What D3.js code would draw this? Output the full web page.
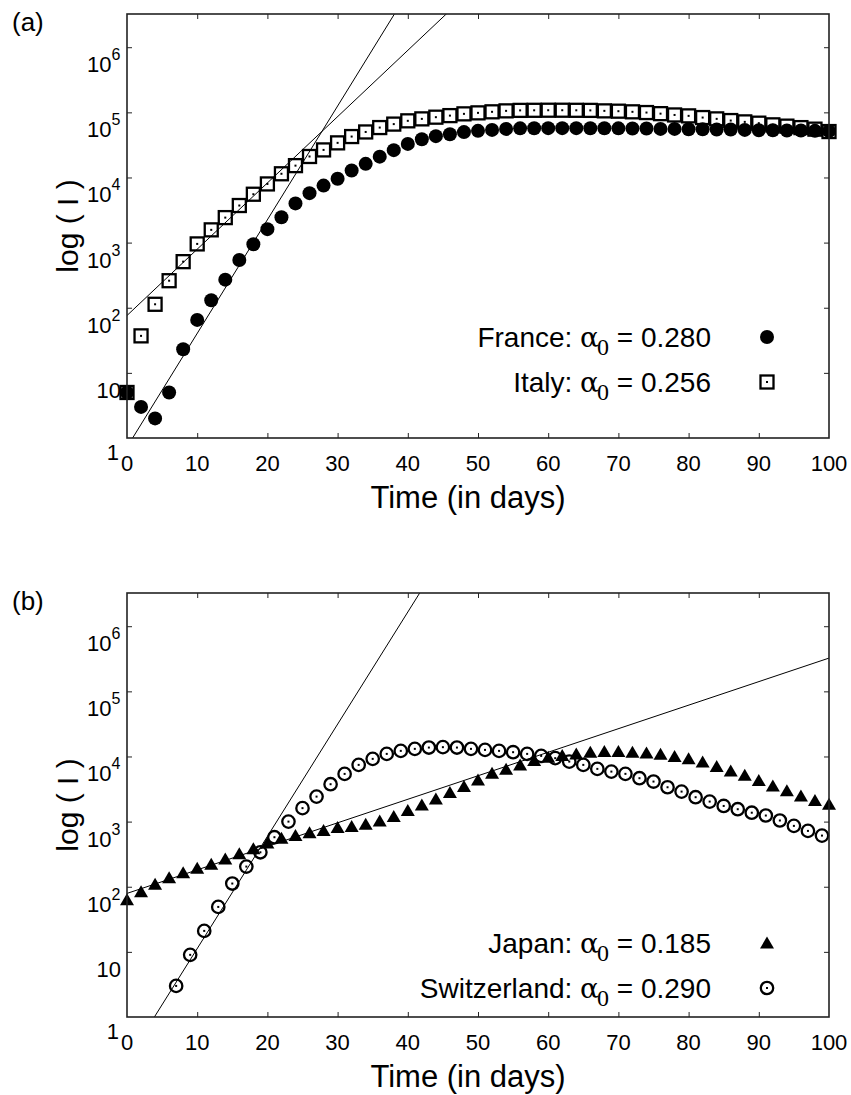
<!DOCTYPE html>
<html>
<head>
<meta charset="utf-8">
<script src="https://cdn.jsdelivr.net/npm/d3@7"></script>
<style>
  body { margin: 0; background: #fff; }
  svg { font-family: "Liberation Sans", Arial, Helvetica, sans-serif; }
</style>
</head>
<body>
<script>
// ---- data ----
var evenDays = d3.range(0, 101, 2);      // France, Italy, Japan sampled every 2 days
var switzDays = d3.range(7, 100, 2);     // Switzerland on odd days 7..99

var franceI = [5, 3, 2, 5, 23, 65, 130, 270, 540, 945, 1610, 2450, 4000, 5750, 7500, 9550,
  12800, 16200, 20900, 26300, 32800, 38700, 43100, 46200, 49700, 52000, 53800, 55700,
  56800, 57000, 57200, 57200, 57200, 57100, 57000, 56800, 56500, 56500, 55700, 55700,
  55100, 55100, 54500, 54500, 53800, 53200, 53200, 52500, 52500, 52000, 51400];

var italyI = [5, 37, 113, 260, 510, 955, 1570, 2420, 3710, 5530, 7960, 11400, 15200, 21000,
  26500, 34000, 42500, 50000, 58400, 66000, 74100, 79400, 84300, 89100, 94800, 98200,
  101900, 105400, 107200, 107500, 107800, 107800, 107500, 107200, 105400, 104200, 101900,
  99300, 95500, 91200, 88300, 83200, 79400, 74800, 71400, 68200, 64300, 61400, 58300,
  55200, 50700];

var japanI = [63, 84, 109, 137, 164, 192, 222, 266, 321, 383, 470, 556, 610, 677, 728, 809,
  838, 912, 1025, 1195, 1475, 1805, 2230, 2790, 3450, 4370, 5530, 6380, 7430, 8650, 9750,
  10330, 10960, 11640, 11890, 11890, 11640, 11300, 10800, 10000, 9200, 8200, 7000, 6010,
  5160, 4270, 3530, 2990, 2480, 2100, 1850];

var switzI = [3, 9, 21, 49, 112, 204, 338, 576, 1000, 1610, 2420, 3750, 5400, 7430, 9190,
  10960, 12190, 13090, 13710, 13900, 13710, 13090, 12620, 12190, 11640, 10960, 10210, 9420,
  8350, 7430, 6450, 5860, 5410, 4640, 4120, 3370, 2890, 2370, 2030, 1740, 1550, 1370, 1240,
  1040, 860, 720, 610];

// exponential fits: two points [day, I] on each straight line
var franceFit = [[0.8, 1], [38.1, 3.24e6]];
var italyFit = [[0, 76], [38.8, 6.76e5]];
var japanFit = [[0, 79], [100, 3.24e5]];
var switzFit = [[3.9, 1], [41.7, 3.24e6]];

var xTicks = [0, 10, 20, 30, 40, 50, 60, 70, 80, 90, 100];
var yTicks = [10, 100, 1e3, 1e4, 1e5, 1e6];
var yExp = ["", "2", "3", "4", "5", "6"];

var width = 851, height = 1095;

var svg = d3.select("body").append("svg")
    .attr("width", width)
    .attr("height", height);

// marker shapes
function filledCircle(g, pts) {
  g.selectAll(null).data(pts).enter().append("circle")
    .attr("cx", function(d){ return d[0]; })
    .attr("cy", function(d){ return d[1]; })
    .attr("r", 7)
    .attr("fill", "#000");
}
function dottedSquare(g, pts) {
  var s = g.selectAll(null).data(pts).enter().append("g")
    .attr("transform", function(d){ return "translate(" + d[0] + "," + d[1] + ")"; });
  s.append("rect").attr("x", -6.5).attr("y", -6.5).attr("width", 13).attr("height", 13)
    .attr("fill", "none").attr("stroke", "#000").attr("stroke-width", 2.3);
  s.append("rect").attr("x", -1).attr("y", -1).attr("width", 2).attr("height", 2).attr("fill", "#000");
}
function filledTriangle(g, pts) {
  g.selectAll(null).data(pts).enter().append("path")
    .attr("transform", function(d){ return "translate(" + d[0] + "," + d[1] + ")"; })
    .attr("d", "M0,-6.5L7,5.5L-7,5.5Z")
    .attr("fill", "#000");
}
function dottedCircle(g, pts) {
  var s = g.selectAll(null).data(pts).enter().append("g")
    .attr("transform", function(d){ return "translate(" + d[0] + "," + d[1] + ")"; });
  s.append("circle").attr("r", 6.2).attr("fill", "none").attr("stroke", "#000").attr("stroke-width", 2.3);
  s.append("rect").attr("x", -1).attr("y", -1).attr("width", 2).attr("height", 2).attr("fill", "#000");
}

function drawPanel(opt) {
  var L = 127, R = 829, T = opt.top, B = opt.bottom;
  var x = d3.scaleLinear().domain([0, 100]).range([L, R]);
  var y = d3.scaleLog().domain([1, Math.pow(10, 6.51)]).range([B, T]);

  var g = svg.append("g");

  // panel letter
  g.append("text").attr("x", 12).attr("y", T + 17).attr("font-size", 26).text(opt.letter);

  // clip for fit lines
  g.append("clipPath").attr("id", "clip" + opt.id)
    .append("rect").attr("x", L).attr("y", T).attr("width", R - L).attr("height", B - T);

  // fit lines, extended over the whole time range
  var line = d3.line().x(function(d){ return x(d[0]); }).y(function(d){ return y(d[1]); });
  opt.fits.forEach(function(f) {
    var k = (Math.log10(f[1][1]) - Math.log10(f[0][1])) / (f[1][0] - f[0][0]);
    var at = function(t){ return [t, Math.pow(10, Math.log10(f[0][1]) + k * (t - f[0][0]))]; };
    g.append("path")
      .attr("d", line([at(-5), at(105)]))
      .attr("clip-path", "url(#clip" + opt.id + ")")
      .attr("fill", "none").attr("stroke", "#000").attr("stroke-width", 1);
  });

  // series markers
  opt.series.forEach(function(s) {
    var pts = s.days.map(function(d, i){ return [x(d), y(s.values[i])]; });
    s.marker(g.append("g"), pts);
  });

  // ticks (inward) on all four sides
  g.append("g").attr("transform", "translate(0," + B + ")")
    .call(d3.axisBottom(x).tickValues(xTicks.slice(1, -1)).tickSize(-5).tickSizeOuter(0).tickFormat(""));
  g.append("g").attr("transform", "translate(0," + T + ")")
    .call(d3.axisTop(x).tickValues(xTicks.slice(1, -1)).tickSize(-5).tickSizeOuter(0).tickFormat(""));
  g.append("g").attr("transform", "translate(" + L + ",0)")
    .call(d3.axisLeft(y).tickValues(yTicks).tickSize(-5).tickSizeOuter(0).tickFormat(""));
  g.append("g").attr("transform", "translate(" + R + ",0)")
    .call(d3.axisRight(y).tickValues(yTicks).tickSize(-5).tickSizeOuter(0).tickFormat(""));
  g.selectAll(".domain").remove();
  g.selectAll(".tick line").attr("stroke", "#222").attr("stroke-width", 1);

  g.append("rect").attr("x", L).attr("y", T).attr("width", R - L).attr("height", B - T)
    .attr("fill", "none").attr("stroke", "#222").attr("stroke-width", 1.6);

  // x tick labels
  g.selectAll(null).data(xTicks).enter().append("text")
    .attr("x", function(d){ return x(d); })
    .attr("y", B + 33)
    .attr("text-anchor", "middle")
    .attr("font-size", 22)
    .text(function(d){ return d; });

  // y tick labels (sit a little below their ticks, as in the original)
  yTicks.forEach(function(v, i) {
    var t = g.append("text").attr("font-size", 22).attr("y", y(v) + 25);
    if (yExp[i] === "") {
      t.attr("x", 121).attr("text-anchor", "end").text("10");
    } else {
      t.attr("x", 87).text("10");
      t.append("tspan").attr("font-size", 16).attr("dy", -12).text(yExp[i]);
    }
  });
  g.append("text").attr("x", 119).attr("y", B + 22).attr("text-anchor", "end")
    .attr("font-size", 22).text("1");

  // axis titles
  g.append("text").attr("x", (L + R) / 2 - 10).attr("y", B + 70)
    .attr("text-anchor", "middle").attr("font-size", 31).text("Time (in days)");
  g.append("text")
    .attr("transform", "translate(78," + ((T + B) / 2) + ") rotate(-90)")
    .attr("text-anchor", "middle").attr("font-size", 30).text("log ( I )");

  // legend
  opt.series.forEach(function(s, i) {
    var ly = opt.legendY + i * 45;
    var t = g.append("text").attr("x", 711).attr("y", ly + 10)
      .attr("text-anchor", "end").attr("font-size", 28);
    t.append("tspan").text(s.name + ": ");
    t.append("tspan").attr("font-family", "'DejaVu Serif', 'Liberation Serif', serif").text("\u03b1");
    t.append("tspan").attr("font-family", "'Liberation Serif', serif").attr("font-size", 24)
      .attr("dx", -2).attr("dy", 8).text("0");
    t.append("tspan").attr("dy", -8).text(" = " + s.alpha);
    s.marker(g.append("g"), [[767, ly]]);
  });
}

drawPanel({
  id: "a", letter: "(a)", top: 14, bottom: 438, legendY: 337,
  fits: [franceFit, italyFit],
  series: [
    { name: "France", alpha: "0.280", days: evenDays, values: franceI, marker: filledCircle },
    { name: "Italy", alpha: "0.256", days: evenDays, values: italyI, marker: dottedSquare }
  ]
});

drawPanel({
  id: "b", letter: "(b)", top: 593, bottom: 1017, legendY: 943,
  fits: [switzFit, japanFit],
  series: [
    { name: "Japan", alpha: "0.185", days: evenDays, values: japanI, marker: filledTriangle },
    { name: "Switzerland", alpha: "0.290", days: switzDays, values: switzI, marker: dottedCircle }
  ]
});
</script>
</body>
</html>
